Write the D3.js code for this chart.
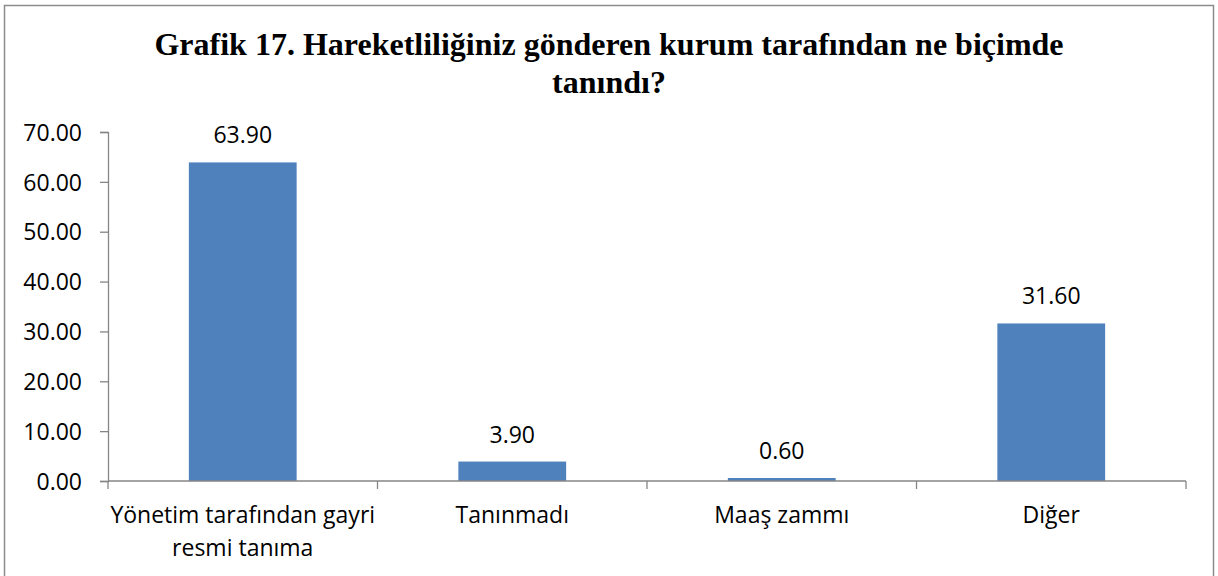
<!DOCTYPE html>
<html>
<head>
<meta charset="utf-8">
<script src="https://cdn.jsdelivr.net/npm/d3@7"></script>
<style>
  body { margin: 0; background: #fff; }
  svg { display: block; }
  .title { font-family: "Liberation Serif", "Times New Roman", serif; font-weight: bold; font-size: 32px; fill: #000; }
  .lbl { font-family: "Open Sans", Lato, sans-serif; font-size: 23px; fill: #000; }
</style>
</head>
<body>
<svg id="chart" width="1218" height="576"></svg>
<script>
// ----------

const TITLE_LINES = ["Grafik 17. Hareketliliğiniz gönderen kurum tarafından ne biçimde", "tanındı?"];
const CATEGORIES = ["Yönetim tarafından gayri resmi tanıma", "Tanınmadı", "Maaş zammı", "Diğer"];
const CATEGORY_LINES = [["Yönetim tarafından gayri", "resmi tanıma"], ["Tanınmadı"], ["Maaş zammı"], ["Diğer"]];
const VALUES = [63.9, 3.9, 0.6, 31.6];
const Y_TICKS = [0, 10, 20, 30, 40, 50, 60, 70];

const BAR_COLOR = "#4F81BD";
const AXIS_COLOR = "#868686";

// ----------

const svg = d3.select("#chart");
const plot = { left: 108, right: 1186, top: 132, bottom: 481 };

// outer frame (bottom edge falls below the picture)
svg.append("rect")
  .attr("x", 4.5).attr("y", 5.5)
  .attr("width", 1209).attr("height", 600)
  .attr("fill", "none").attr("stroke", "#8c8c8c").attr("stroke-width", 1.5);

svg.selectAll("text.title")
  .data(TITLE_LINES)
  .enter()
  .append("text")
  .attr("class", "title")
  .attr("x", 609)
  .attr("y", (d, i) => 55 + i * 38)
  .attr("text-anchor", "middle")
  .text(d => d);

const x = d3.scaleBand()
  .domain(CATEGORIES)
  .range([plot.left, plot.right])
  .paddingInner(0.6)
  .paddingOuter(0.3);

const y = d3.scaleLinear().domain([0, 70]).range([plot.bottom, plot.top]);

// y axis
const yAxis = svg.append("g")
  .attr("transform", `translate(${plot.left},0)`)
  .call(d3.axisLeft(y).tickValues(Y_TICKS).tickSize(8).tickPadding(18).tickFormat(d3.format(".2f")));
yAxis.select(".domain").attr("stroke", AXIS_COLOR).attr("stroke-width", 1.3);
yAxis.selectAll(".tick line").attr("stroke", AXIS_COLOR).attr("stroke-width", 1.3);
yAxis.selectAll(".tick text").attr("class", "lbl").attr("font-family", null).attr("font-size", null).attr("fill", null).attr("dy", "0.36em");

// bars
svg.selectAll("rect.bar")
  .data(VALUES)
  .enter()
  .append("rect")
  .attr("class", "bar")
  .attr("x", (d, i) => x(CATEGORIES[i]))
  .attr("width", x.bandwidth())
  .attr("y", d => y(d))
  .attr("height", d => y(0) - y(d))
  .attr("fill", BAR_COLOR);

// value labels
svg.selectAll("text.val")
  .data(VALUES)
  .enter()
  .append("text")
  .attr("class", "lbl val")
  .attr("x", (d, i) => x(CATEGORIES[i]) + x.bandwidth() / 2)
  .attr("y", d => y(d) - 19)
  .attr("text-anchor", "middle")
  .text(d => d.toFixed(2));

// x axis line and category dividers
const step = x.step();
const xg = svg.append("g");
xg.append("line")
  .attr("x1", plot.left).attr("x2", plot.right)
  .attr("y1", plot.bottom).attr("y2", plot.bottom)
  .attr("stroke", AXIS_COLOR).attr("stroke-width", 1.3);
xg.selectAll("line.tk")
  .data(d3.range(CATEGORIES.length + 1))
  .enter()
  .append("line")
  .attr("class", "tk")
  .attr("x1", i => plot.left + i * step).attr("x2", i => plot.left + i * step)
  .attr("y1", plot.bottom).attr("y2", plot.bottom + 8)
  .attr("stroke", AXIS_COLOR).attr("stroke-width", 1.3);

// category labels
CATEGORY_LINES.forEach(function (lines, i) {
  const cx = x(CATEGORIES[i]) + x.bandwidth() / 2;
  svg.append("text")
    .attr("class", "lbl")
    .attr("text-anchor", "middle")
    .selectAll("tspan")
    .data(lines)
    .enter()
    .append("tspan")
    .attr("x", cx)
    .attr("y", (d, j) => 523 + j * 33)
    .text(d => d);
});
</script>
</body>
</html>
